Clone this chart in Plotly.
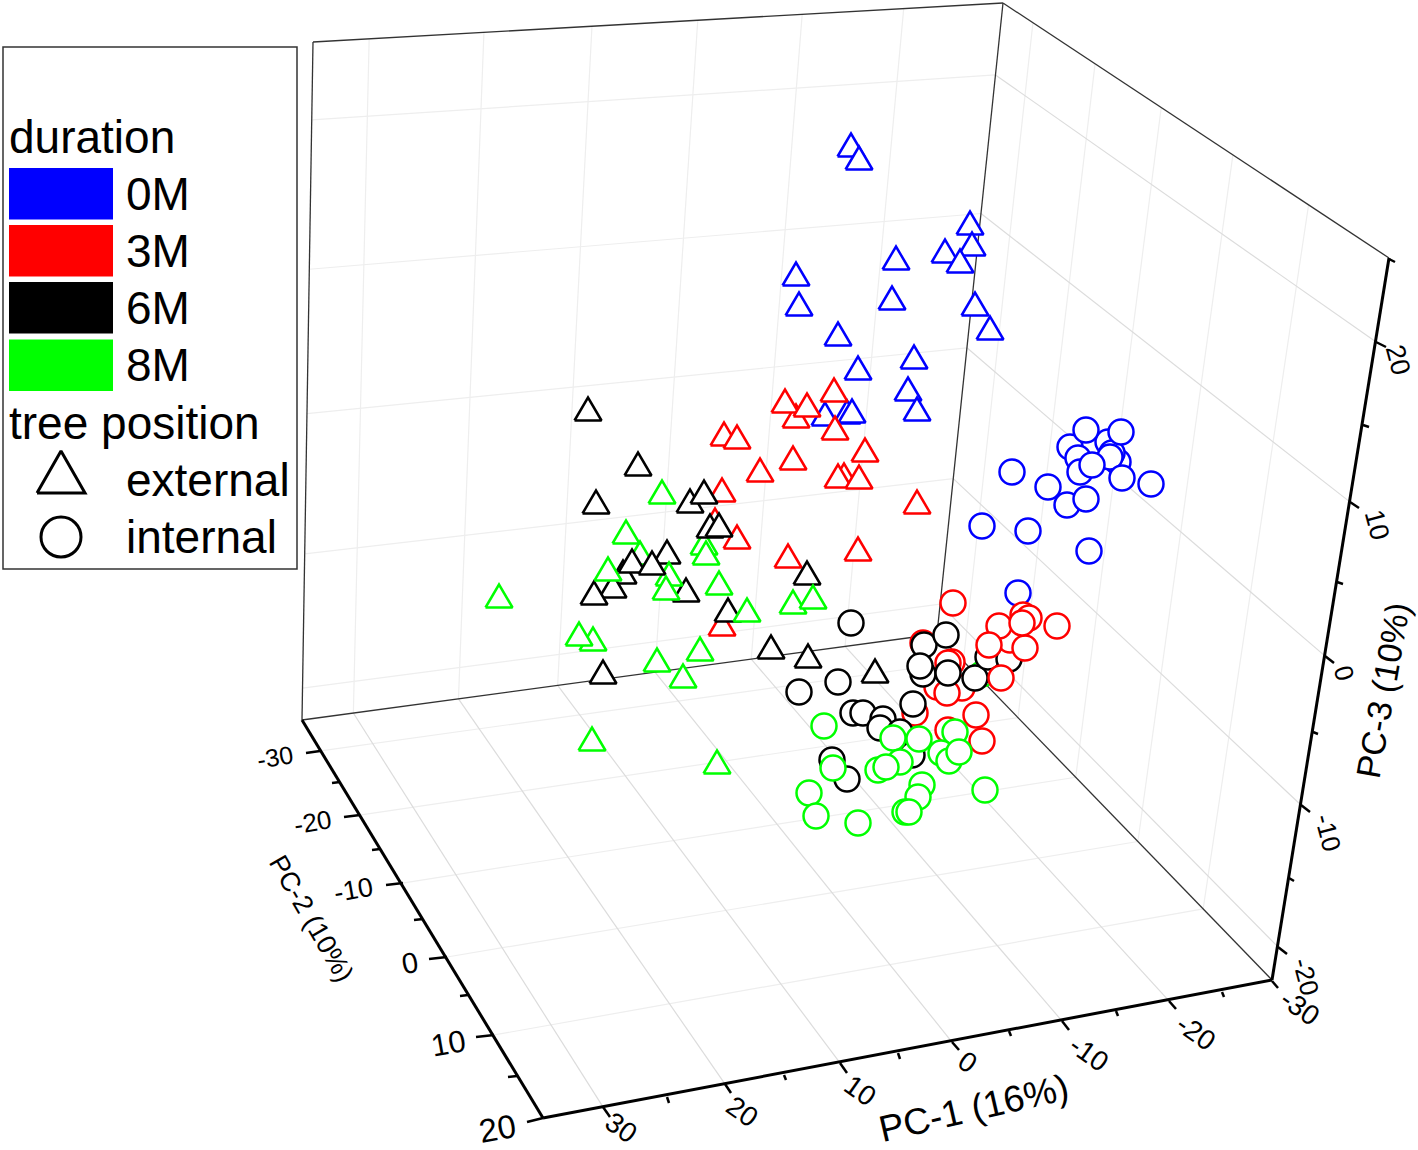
import numpy as np
import plotly.graph_objects as go

# scores as they sit on the projected plot plane, listed back to front
tri_x = [851, 859, 970, 972, 945, 960, 896, 796, 799, 892, 975, 990, 838, 914, 858, 908, 917, 825, 847, 852,
         722, 796, 785, 807, 834, 835, 724, 737, 865, 793, 760, 844, 838, 859, 917, 722, 715, 737, 788, 858,
         704, 706, 623, 613, 686, 640, 667, 594, 608, 632, 669, 652, 666, 690, 704, 710, 719, 662, 626, 588,
         638, 596, 719, 728, 747, 807, 793, 813, 499, 593, 579, 771, 700, 808, 875, 657, 603, 683, 592, 717]
tri_y = [145, 158, 223, 244, 251, 261, 258, 274, 304, 298, 304, 328, 334, 357, 368, 389, 409, 414, 412, 411,
         624, 416, 401, 405, 390, 428, 434, 437, 450, 458, 470, 475, 476, 477, 502, 490, 520, 537, 556, 549,
         543, 553, 572, 586, 590, 553, 552, 593, 569, 561, 574, 563, 588, 501, 492, 526, 525, 492, 532, 409,
         464, 502, 583, 610, 610, 573, 602, 597, 596, 639, 634, 647, 649, 656, 671, 660, 672, 676, 739, 762]
tri_duration = ["0M"] * 20 + ["3M"] * 20 + [
    "8M", "8M", "6M", "6M", "6M", "8M", "6M", "6M", "8M", "6M", "8M", "6M", "8M", "6M", "6M", "6M", "6M", "8M", "8M", "6M",
    "6M", "6M", "8M", "6M", "8M", "6M", "8M", "8M", "8M", "8M", "8M", "6M", "8M", "6M", "6M", "8M", "6M", "8M", "8M", "8M"]

circ_x = [982, 1012, 1048, 1070, 1108, 1118, 1112, 1110, 1078, 1080, 1086, 1121, 1092, 1122, 1151, 1067, 1086, 1028, 1089, 1018,
          982, 962, 975, 988, 1009,
          953, 1023, 1029, 1057, 1010, 999, 989, 1025, 1022, 923, 952, 948, 937, 947, 915, 948, 976, 982, 1001,
          851, 923, 924, 946, 920, 948, 838, 799, 853, 863, 883, 880, 900, 913, 912, 832, 847,
          824, 893, 919, 955, 941, 949, 959, 900, 878, 886, 833, 922, 918, 985, 809, 816, 858, 905, 909]
circ_y = [526, 472, 487, 447, 442, 462, 453, 457, 458, 472, 430, 432, 465, 478, 484, 505, 499, 531, 551, 593,
          674, 688, 678, 657, 659,
          603, 615, 618, 626, 640, 626, 645, 648, 623, 643, 662, 663, 687, 693, 713, 730, 715, 741, 678,
          623, 674, 645, 635, 666, 673, 682, 692, 713, 713, 719, 728, 732, 704, 755, 760, 779,
          726, 738, 739, 732, 753, 761, 752, 762, 770, 767, 768, 785, 797, 790, 793, 816, 823, 812, 812]
circ_duration = (["0M"] * 20 + ["8M", "3M", "6M", "6M", "6M"] + ["3M"] * 19 + ["6M"] * 17 + ["8M"] * 19)

duration_names = ["0M", "3M", "6M", "8M"]
duration_colors = ["#0000ff", "#ff0000", "#000000", "#00ff00"]
position_names = ["external", "internal"]

pc1_labels = ["30", "20", "10", "0", "-10", "-20", "-30"]
pc2_labels = ["-30", "-20", "-10", "0", "10", "20"]
pc3_labels = ["-20", "-10", "0", "10", "20"]

color_of = dict(zip(duration_names, duration_colors))

# box corners on the page
back_left = (302, 720)
back_mid = (937, 634)
front_right = (1272, 980)
front_left = (543, 1118)
top_left = (313, 42)
top_mid = (1003, 3)
top_right = (1389, 258)

# where each axis tick meets its axis, and where the tick stops
pc1_major = [(603, 1107), (725, 1084), (840, 1063), (952, 1042), (1062, 1021), (1169, 1001), (1272, 981)]
pc1_major_end = [(610, 1117), (731, 1093), (847, 1073), (959, 1050), (1069, 1030), (1176, 1009), (1278, 988)]
pc1_minor = [(667, 1097), (784, 1075), (898, 1053), (1009, 1031), (1116, 1011), (1222, 992)]
pc1_minor_end = [(669, 1103), (786, 1080), (900, 1059), (1011, 1036), (1118, 1016), (1224, 997)]
pc2_major = [(320, 751), (360, 815), (403, 883), (447, 957), (494, 1035), (543, 1118)]
pc2_major_end = [(306, 753), (344, 817), (386, 885), (429, 959), (476, 1037), (527, 1122)]
pc2_minor = [(340, 782), (380, 849), (423, 919), (468, 995), (517, 1076)]
pc2_minor_end = [(332, 783), (372, 850), (414, 920), (460, 996), (508, 1077)]
pc3_major = [(1278, 947), (1301, 805), (1325, 656), (1350, 502), (1376, 342)]
pc3_major_end = [(1287, 954), (1310, 812), (1334, 663), (1359, 508), (1386, 347)]
pc3_minor = [(1289, 878), (1313, 732), (1337, 582), (1363, 425), (1389, 259)]
pc3_minor_end = [(1294, 881), (1318, 734), (1343, 584), (1369, 427), (1395, 262)]

pc1_label_pos = [(621, 1127), (742, 1111), (860, 1090), (968, 1062), (1089, 1053), (1196, 1032), (1300, 1007)]
pc2_label_pos = [(275, 757), (313, 822), (353, 890), (410, 963), (448, 1043), (497, 1128)]
pc3_label_pos = [(1306, 977), (1328, 833), (1344, 673), (1377, 525), (1398, 360)]


def homography(corners):
    # unit square (0,0) (1,0) (1,1) (0,1) onto the four given corners
    src = [(0, 0), (1, 0), (1, 1), (0, 1)]
    a, b = [], []
    for (u, v), (x, y) in zip(src, corners):
        a.append([u, v, 1, 0, 0, 0, -u * x, -v * x])
        a.append([0, 0, 0, u, v, 1, -u * y, -v * y])
        b += [x, y]
    return np.append(np.linalg.solve(np.array(a, float), np.array(b, float)), 1).reshape(3, 3)


def apply(h, p):
    q = h @ np.array([p[0], p[1], 1.0])
    return q[0] / q[2], q[1] / q[2]


floor = homography([back_left, back_mid, front_right, front_left])
left_wall = homography([back_left, back_mid, top_mid, top_left])
right_wall = homography([back_mid, front_right, top_right, top_mid])
floor_inv, left_inv, right_inv = map(np.linalg.inv, (floor, left_wall, right_wall))

fig = go.Figure()


def add_segments(starts, ends, color, width):
    xs, ys = [], []
    for s, e in zip(starts, ends):
        xs += [s[0], e[0], None]
        ys += [s[1], e[1], None]
    fig.add_trace(go.Scatter(x=xs, y=ys, mode="lines", line=dict(color=color, width=width),
                             hoverinfo="skip", showlegend=False))


# grid on the three walls
dark_grid, pale_grid = "#dcdcdc", "#eeeeee"
s1, e1, s2, e2, s3, e3, s4, e4, s5, e5, s6, e6 = [[] for _ in range(12)]
for t in pc1_major[:-1]:
    u = apply(floor_inv, t)[0]
    base = apply(floor, (u, 0))
    s1.append(apply(floor, (u, 1)))
    e1.append(base)
    s2.append(base)
    e2.append(apply(left_wall, (apply(left_inv, base)[0], 1)))
for t in pc2_major[:-1]:
    v = apply(floor_inv, t)[1]
    base = apply(floor, (1, v))
    s3.append(apply(floor, (0, v)))
    e3.append(base)
    s4.append(base)
    e4.append(apply(right_wall, (apply(right_inv, base)[0], 1)))
for t in pc3_major:
    w = apply(right_inv, t)[1]
    mid = apply(right_wall, (0, w))
    s5.append(apply(right_wall, (1, w)))
    e5.append(mid)
    s6.append(mid)
    e6.append(apply(left_wall, (0, apply(left_inv, mid)[1])))
add_segments(s3, e3, pale_grid, 1.2)
add_segments(s2, e2, pale_grid, 1.2)
add_segments(s4, e4, pale_grid, 1.2)
add_segments(s6, e6, pale_grid, 1.2)
add_segments(s1, e1, dark_grid, 1.2)
add_segments(s5, e5, dark_grid, 1.2)

# box edges and the three drawn axes
add_segments([back_left, back_left, back_mid, top_left, top_mid, back_mid],
             [back_mid, top_left, top_mid, top_mid, top_right, front_right], "#333333", 1.3)
add_segments([back_left, front_left, front_right], [front_left, front_right, top_right], "#000000", 3)
add_segments(pc1_major + pc2_major + pc3_major, pc1_major_end + pc2_major_end + pc3_major_end, "#000000", 2.5)
add_segments(pc1_minor + pc2_minor + pc3_minor, pc1_minor_end + pc2_minor_end + pc3_minor_end, "#000000", 2.5)


def triangle(cx, cy, color, half=13.5, half_h=11.5, width=2.5):
    # plotly's triangle-up symbol is too flat, so outline it as a filled path
    fig.add_trace(go.Scatter(x=[cx - half, cx + half, cx, cx - half],
                             y=[cy + half_h, cy + half_h, cy - half_h, cy + half_h],
                             mode="lines", fill="toself", fillcolor="white",
                             line=dict(color=color, width=width), hoverinfo="skip", showlegend=False))


# circles first, triangles after, as in the picture's overlaps
fig.add_trace(go.Scatter(x=circ_x, y=circ_y, mode="markers", showlegend=False, hoverinfo="skip",
                         marker=dict(symbol="circle", size=25, color="white",
                                     line=dict(color=[color_of[d] for d in circ_duration], width=2.5))))
for x, y, d in zip(tri_x, tri_y, tri_duration):
    triangle(x, y, color_of[d])

shapes = [dict(type="rect", x0=3, x1=297, y0=47, y1=569, line=dict(color="#333333", width=1.5), fillcolor="white",
               layer="below")]
swatch_top = [168, 225, 282, 339.5]
for top, c in zip(swatch_top, duration_colors):
    shapes.append(dict(type="rect", x0=9, x1=113, y0=top, y1=top + 51.5, fillcolor=c, line=dict(width=0), layer="below"))

# legend keys
triangle(61, 472, "#000000", half=24, half_h=21, width=3)
fig.add_trace(go.Scatter(x=[61], y=[537], mode="markers", showlegend=False, hoverinfo="skip",
                         marker=dict(symbol="circle", size=40, color="white", line=dict(color="#000000", width=3))))

annotations = []


def label(x, y, text, size, angle=0, anchor="center"):
    annotations.append(dict(x=x, y=y, xref="x", yref="y", text=text, showarrow=False, textangle=angle,
                            xanchor=anchor, yanchor="middle",
                            font=dict(family="Liberation Sans, Arial, sans-serif", size=size, color="#000000")))


label(7, 137, "duration", 46, anchor="left")
for y, name in zip([194, 251, 308, 365], duration_names):
    label(124, y, name, 46, anchor="left")
label(7, 423, "tree position", 46, anchor="left")
for y, name in zip([480, 537], position_names):
    label(124, y, name, 46, anchor="left")

for (x, y), t in zip(pc1_label_pos, pc1_labels):
    label(x, y, t, 28, 35)
for (x, y), t, s in zip(pc2_label_pos, pc2_labels, [25, 26, 27, 29, 31, 33]):
    label(x, y, t, s, -10)
for (x, y), t, s in zip(pc3_label_pos, pc3_labels, [26, 26, 26, 27, 27]):
    label(x, y, t, s, 75)

label(973, 1108, "PC-1 (16%)", 37, -13)
label(311, 918, "PC-2 (10%)", 27, 60)
label(1383, 690, "PC-3 (10%)", 34, -80)

fig.update_layout(
    width=1418, height=1150, margin=dict(l=0, r=0, t=0, b=0),
    paper_bgcolor="white", plot_bgcolor="white", showlegend=False,
    xaxis=dict(range=[0, 1418], visible=False, fixedrange=True),
    yaxis=dict(range=[1150, 0], visible=False, fixedrange=True),
    shapes=shapes, annotations=annotations,
)
fig.write_html("out.html", config={"displayModeBar": False}, post_script="document.body.style.margin='0';")
